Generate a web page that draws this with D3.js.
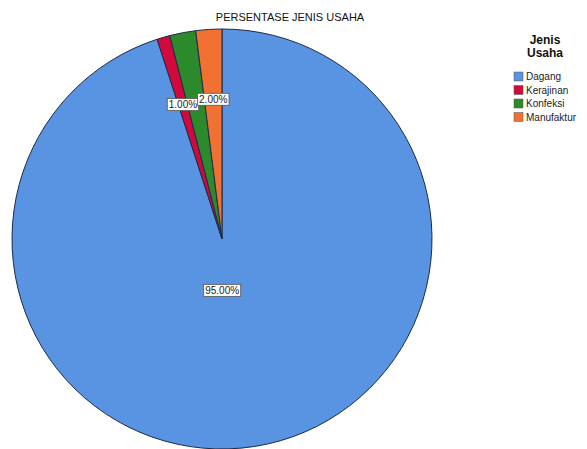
<!DOCTYPE html>
<html>
<head>
<meta charset="utf-8">
<script src="https://cdn.jsdelivr.net/npm/d3@7"></script>
<style>
  html, body { margin: 0; padding: 0; background: #fff; }
  svg { display: block; }
</style>
</head>
<body>
<svg id="chart" width="587" height="449"></svg>
<script>
const categories = ["Dagang", "Kerajinan", "Konfeksi", "Manufaktur"];
const values = [95, 1, 2, 2];
const valueLabels = ["95.00%", "1.00%", "", "2.00%"];
const colors = ["#5894E1", "#D2093C", "#2C8A2C", "#F07132"];
const title = "PERSENTASE JENIS USAHA";
const legendTitle = ["Jenis", "Usaha"];

const svg = d3.select("#chart");
const font = "'Liberation Sans', Arial, sans-serif";

const cx = 222, cy = 239, r = 210;

const pie = d3.pie().sort(null).value(d => d.v);
const data = categories.map((c, i) => ({ c, v: values[i], col: colors[i], lab: valueLabels[i] }));
const arcs = pie(data);
const arc = d3.arc().innerRadius(0).outerRadius(r);

const g = svg.append("g").attr("transform", `translate(${cx},${cy})`);

g.selectAll("path").data(arcs).enter().append("path")
  .attr("d", arc)
  .attr("fill", d => d.data.col)
  .attr("stroke", "#1d2a48")
  .attr("stroke-width", 1);

// labels
const smallArc = d3.arc().innerRadius(140).outerRadius(140);
const bigArc = d3.arc().innerRadius(52).outerRadius(52);
arcs.forEach(d => {
  if (!d.data.lab) return;
  const big = (d.endAngle - d.startAngle) > Math.PI;
  const [x, y] = big ? bigArc.centroid(d) : smallArc.centroid(d);
  const lg = g.append("g").attr("transform", `translate(${big ? x - 8 : x},${y})`);
  const t = lg.append("text")
    .attr("text-anchor", "middle")
    .attr("dy", "0.35em")
    .attr("font-family", font)
    .attr("font-size", 10)
    .attr("fill", "#222")
    .text(d.data.lab);
  const bb = t.node().getBBox();
  lg.insert("rect", "text")
    .attr("x", bb.x - 1.5).attr("y", bb.y - 0.5)
    .attr("width", bb.width + 3).attr("height", bb.height + 1)
    .attr("fill", "#fff")
    .attr("stroke", "#555")
    .attr("stroke-width", 0.8);
});

// title
svg.append("text")
  .attr("x", 290).attr("y", 21)
  .attr("text-anchor", "middle")
  .attr("font-family", font)
  .attr("font-size", 11)
  .attr("fill", "#111")
  .text(title);

// legend
const lx = 545;
legendTitle.forEach((t, i) => {
  svg.append("text")
    .attr("x", lx).attr("y", 44 + i * 13)
    .attr("text-anchor", "middle")
    .attr("font-family", font)
    .attr("font-size", 12)
    .attr("font-weight", "bold")
    .attr("fill", "#111")
    .text(t);
});
const leg = svg.append("g").attr("transform", "translate(514,72)");
categories.forEach((c, i) => {
  const row = leg.append("g").attr("transform", `translate(0,${i * 13.5})`);
  row.append("rect")
    .attr("x", 0).attr("y", 0).attr("width", 9).attr("height", 9)
    .attr("fill", colors[i]).attr("stroke", "#555").attr("stroke-width", 0.5);
  row.append("text")
    .attr("x", 12).attr("y", 8)
    .attr("font-family", font)
    .attr("font-size", 10)
    .attr("fill", "#222")
    .text(c);
});
</script>
</body>
</html>
